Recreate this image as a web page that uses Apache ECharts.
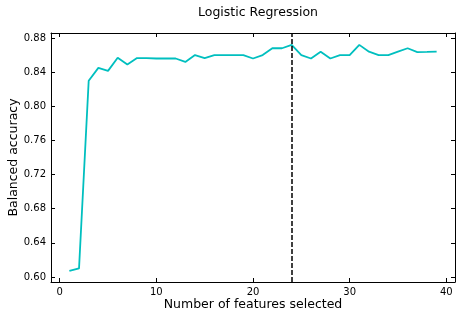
<!DOCTYPE html>
<html><head><meta charset="utf-8">
<script src="https://cdn.jsdelivr.net/npm/echarts@6/dist/echarts.min.js"></script>
<style>html,body{margin:0;padding:0;background:#fff}#c{width:463px;height:317px}</style>
</head><body><div id="c"></div>
<script>
const features = [1,2,3,4,5,6,7,8,9,10,11,12,13,14,15,16,17,18,19,20,21,22,23,24,25,26,27,28,29,30,31,32,33,34,35,36,37,38,39];
const accuracy = [0.607,0.610,0.830,0.845,0.8415,0.857,0.849,0.8565,0.8565,0.856,0.856,0.856,0.852,0.860,0.8565,0.860,0.860,0.860,0.860,0.856,0.860,0.868,0.868,0.872,0.860,0.856,0.864,0.856,0.860,0.860,0.872,0.864,0.860,0.860,0.864,0.868,0.8635,0.8637,0.864];
const bestK = 24;
const xTicks = [0,10,20,30,40];
const yTicks = [0.60,0.64,0.68,0.72,0.76,0.80,0.84,0.88];
const title = 'Logistic Regression';
const xName = 'Number of features selected';
const yName = 'Balanced accuracy';

const font = 'DejaVu Sans';
const X_MIN = -0.9, X_MAX = 40.9, Y_MIN = 0.5941, Y_MAX = 0.8859;
const axLine = {show:true, onZero:false, lineStyle:{color:'#000', width:1}};
const tick = (vals)=>({show:true, inside:true, length:4, customValues:vals, lineStyle:{color:'#000', width:1}});
const chart = echarts.init(document.getElementById('c'), null, {renderer:'canvas'});
chart.setOption({
  animation:false,
  backgroundColor:'#fff',
  title:{text:title, left:253, textAlign:'center', top:1, textStyle:{fontFamily:font, fontSize:12.5, fontWeight:'normal', color:'#000'}},
  grid:{left:51, right:8, top:33, bottom:35, containLabel:false, outerBoundsMode:'none'},
  xAxis:[
    {type:'value', min:X_MIN, max:X_MAX, axisLine:axLine, axisTick:tick(xTicks), splitLine:{show:false},
     axisLabel:{customValues:xTicks, fontFamily:font, fontSize:10, color:'#000', margin:5},
     name:xName, nameLocation:'middle', nameGap:16, nameMoveOverlap:false, nameTextStyle:{fontFamily:font, fontSize:12.5, color:'#000'}},
    {type:'value', position:'top', min:X_MIN, max:X_MAX, axisLine:axLine, axisTick:tick(xTicks), axisLabel:{show:false}, splitLine:{show:false}}
  ],
  yAxis:[
    {type:'value', min:Y_MIN, max:Y_MAX, axisLine:axLine, axisTick:tick(yTicks), splitLine:{show:false},
     axisLabel:{customValues:yTicks, formatter:v=>v.toFixed(2), fontFamily:font, fontSize:10, color:'#000', margin:5},
     name:yName, nameLocation:'middle', nameGap:31, nameRotate:90, nameMoveOverlap:false, nameTextStyle:{fontFamily:font, fontSize:12.5, color:'#000'}},
    {type:'value', position:'right', min:Y_MIN, max:Y_MAX, axisLine:axLine, axisTick:tick(yTicks), axisLabel:{show:false}, splitLine:{show:false}}
  ],
  series:[{
    type:'line', data:features.map((f,i)=>[f, accuracy[i]]), showSymbol:false, symbol:'none',
    lineStyle:{color:'#00bfbf', width:1.8}, itemStyle:{color:'#00bfbf'},
    markLine:{silent:true, symbol:'none', label:{show:false},
      lineStyle:{color:'#000', type:[5,2], width:1.5}, data:[{xAxis:bestK}]}
  }]
});
</script></body></html>
